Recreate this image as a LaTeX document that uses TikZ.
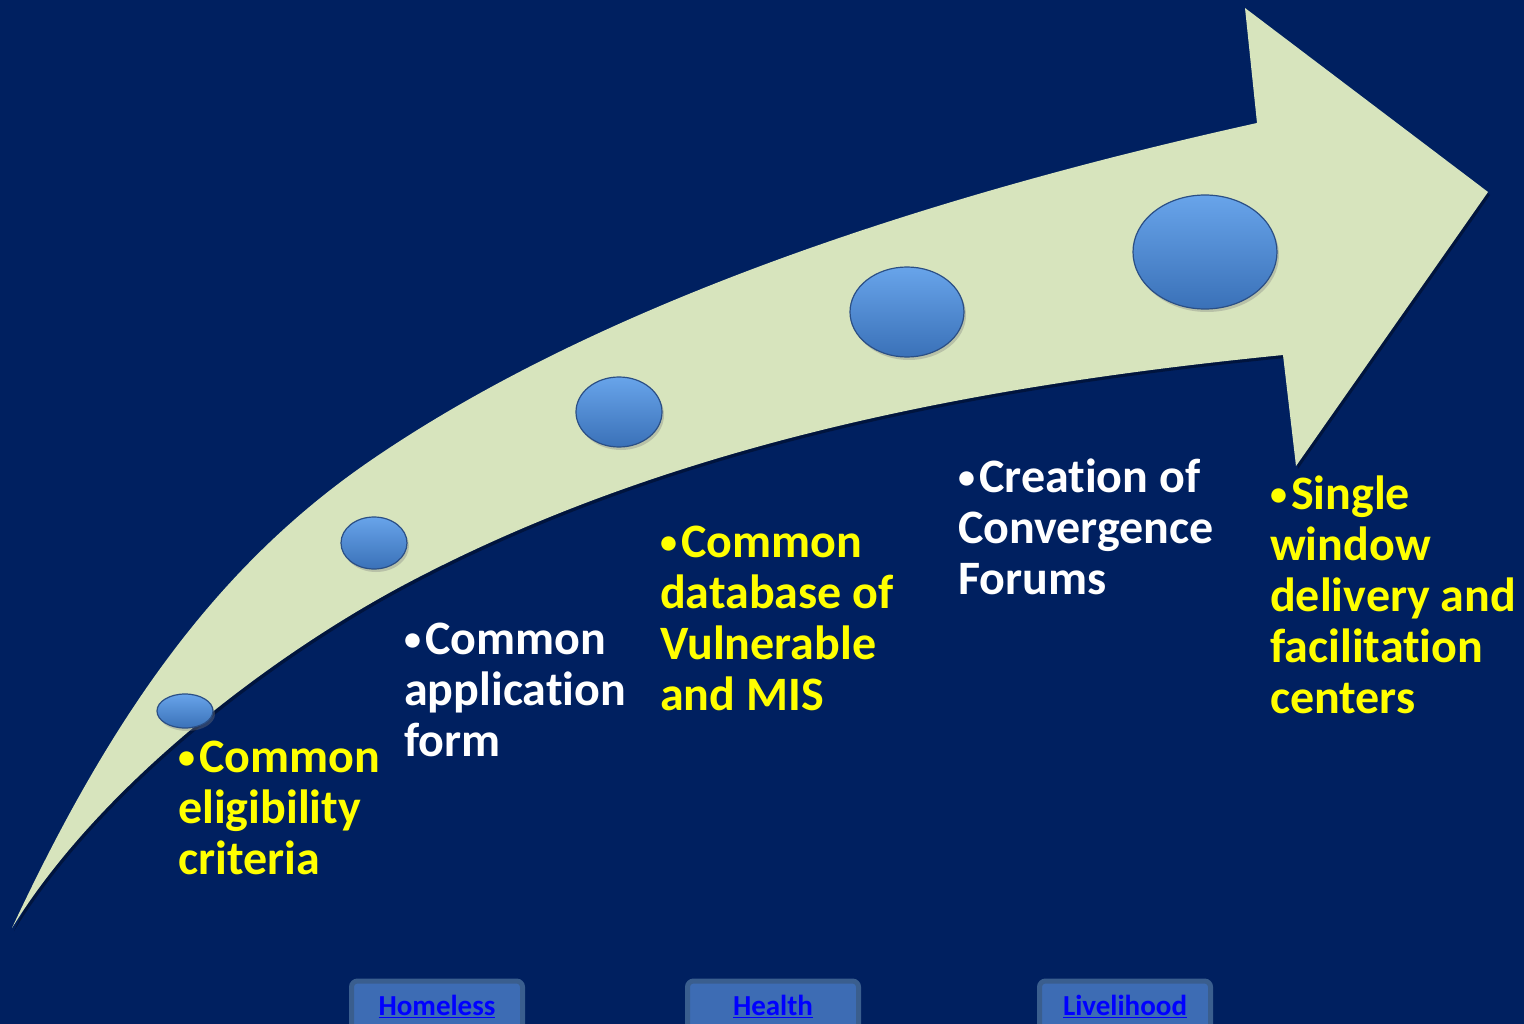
\documentclass[tikz,border=0pt]{standalone}
\usepackage{fontspec}
\setmainfont{Carlito}[Ligatures=NoCommon]
\usetikzlibrary{shapes.geometric,shadows}
\definecolor{bg}{HTML}{002060}
\definecolor{arrowc}{HTML}{D7E4BD}
\definecolor{sphtop}{HTML}{68A4EA}
\definecolor{sphmid}{HTML}{4782CA}
\definecolor{sphbot}{HTML}{3A71B8}
\definecolor{sphedge}{HTML}{2B4F85}
\definecolor{txtyellow}{HTML}{FFFF00}
\definecolor{btnfill}{HTML}{3D6CB4}
\definecolor{btnedge}{HTML}{3A5E8E}
\definecolor{linkblue}{HTML}{0000FF}
\newcommand\blt{\raisebox{4pt}{\fontsize{34}{34}\selectfont •}\hspace{4pt}}
\begin{document}
\begin{tikzpicture}[x={(1pt,0)},y={(0,-1pt)},
  sphere/.style={ellipse, inner sep=0pt, shading=axis, top color=sphtop, middle color=sphmid, bottom color=sphbot,
    draw=sphedge, line width=1.2pt, drop shadow={opacity=0.35, shadow xshift=2pt, shadow yshift=-3pt}},
  steptext/.style={anchor=base west, align=left, inner sep=0pt, font=\fontsize{48}{51}\selectfont\bfseries},
  btn/.style={anchor=north, draw=btnedge, line width=5pt, fill=btnfill, rounded corners=6pt,
    minimum width=171pt, inner xsep=0pt, inner ysep=0pt, text height=34.5pt, text depth=40pt,
    font=\fontsize{29}{32}\selectfont\bfseries, text=linkblue}]
\useasboundingbox (0,0) rectangle (1524,1024);
\clip (0,0) rectangle (1524,1024);
\fill[bg] (0,0) rectangle (1524,1024);
% arrow shadow
\fill[black, opacity=0.35, xshift=2pt, yshift=-3pt]
  (12,928) .. controls (112,714) and (217,567) .. (367,463)
  .. controls (617,290) and (977,185) .. (1257,123)
  -- (1245,8) -- (1488,192) -- (1296,466) -- (1283,355)
  .. controls (1003,383) and (680,437) .. (400,587)
  .. controls (270,657) and (100,785) .. (12,928) -- cycle;
% arrow
\fill[arrowc]
  (12,928) .. controls (112,714) and (217,567) .. (367,463)
  .. controls (617,290) and (977,185) .. (1257,123)
  -- (1245,8) -- (1488,192) -- (1296,466) -- (1283,355)
  .. controls (1003,383) and (680,437) .. (400,587)
  .. controls (270,657) and (100,785) .. (12,928) -- cycle;
% spheres
\node[sphere, minimum width=56pt, minimum height=34pt] (s1) at (185,711) {};
\node[sphere, minimum width=66pt, minimum height=52pt] (s2) at (374,543) {};
\node[sphere, minimum width=86pt, minimum height=70pt] (s3) at (619,412) {};
\node[sphere, minimum width=114pt, minimum height=90pt] (s4) at (907,312) {};
\node[sphere, minimum width=144pt, minimum height=114pt] (s5) at (1205,252) {};
% texts (anchor = baseline of last line)
\node[steptext, text=txtyellow] (t1) at (178,874) {\blt Common\\eligibility\\criteria};
\node[steptext, text=white] (t2) at (404,756) {\blt Common\\application\\form};
\node[steptext, text=txtyellow] (t3) at (660,710) {\blt Common\\database of\\Vulnerable\\and MIS};
\node[steptext, text=white] (t4) at (958,594) {\blt Creation of\\Convergence\\Forums};
\node[steptext, text=txtyellow] (t5) at (1270,713) {\blt Single\\window\\delivery and\\facilitation\\centers};
% buttons
\node[btn] (b1) at (437,978.5) {\underline{Homeless}};
\node[btn] (b2) at (773,978.5) {\underline{Health}};
\node[btn] (b3) at (1125,978.5) {\underline{Livelihood}};
\end{tikzpicture}
\end{document}
